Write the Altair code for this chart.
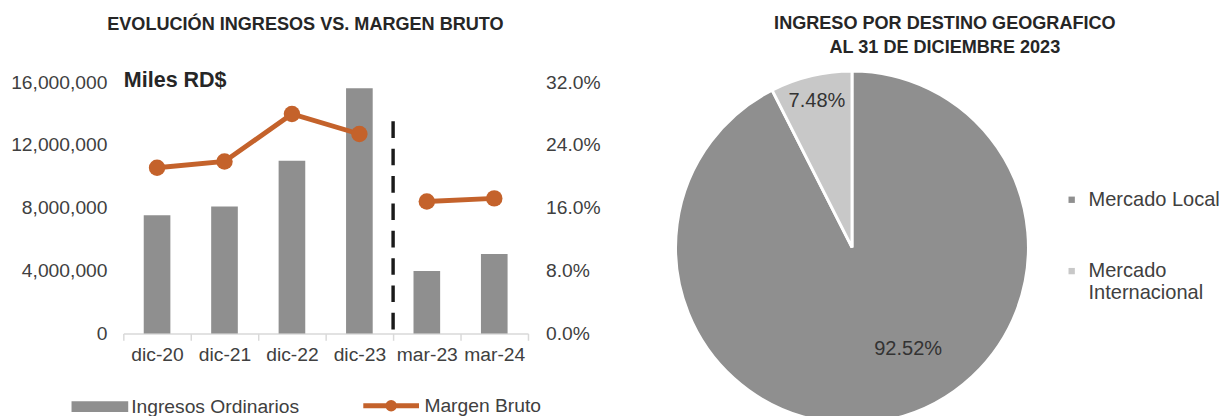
import altair as alt
import pandas as pd

# ---------------- data ----------------
periods = ["dic-20", "dic-21", "dic-22", "dic-23", "mar-23", "mar-24"]
ingresos = [7_530_000, 8_090_000, 11_000_000, 15_620_000, 3_980_000, 5_060_000]
margen = [0.211, 0.219, 0.2795, 0.254, 0.168, 0.172]
tramo = ["anual", "anual", "anual", "anual", "trimestral", "trimestral"]

divider_at = ["mar-23"]
divider_from = [250_000]
divider_to = [13_660_000]

left_ticks = [0, 4_000_000, 8_000_000, 12_000_000, 16_000_000]
right_ticks = [0.0, 0.08, 0.16, 0.24, 0.32]

destinos = ["Mercado Local", "Mercado Internacional"]
participacion = [0.9252, 0.0748]
orden = [0, 1]

# ---------------- style ----------------
FONT = "Liberation Sans"
TXT = "#404040"
TITLE = "#262626"
GREY = "#8f8f8f"
LIGHT = "#c8c8c8"
ORANGE = "#c4622b"
FS = 19.7

df = pd.DataFrame({
    "periodo": periods,
    "ingresos": ingresos,
    "margen": margen,
    "tramo": tramo,
    "serie_bar": ["Ingresos Ordinarios"] * len(periods),
    "serie_line": ["Margen Bruto"] * len(periods),
})
div_df = pd.DataFrame({"periodo": divider_at, "desde": divider_from, "hasta": divider_to})

x_scale = alt.Scale(paddingInner=0, paddingOuter=0)
x_axis = alt.Axis(title=None, labelAngle=0, labelFontSize=FS, labelColor=TXT, labelFont=FONT,
                  domainColor="#d9d9d9", domainWidth=1.5, tickColor="#d9d9d9", tickWidth=1.5,
                  tickSize=7, tickBand="extent", labelPadding=5)

yl_scale = alt.Scale(domain=[0, 16_000_000], nice=False)
yl_axis = alt.Axis(values=left_ticks, format=",.0f", grid=False, domain=False, ticks=False,
                   labelPadding=16.7, labelFontSize=FS, labelColor=TXT, labelFont=FONT,
                   title="Miles RD$", titleAngle=0, titleX=0, titleY=4, titleAlign="left",
                   titleBaseline="alphabetic", titleFontSize=22, titleFontWeight="bold",
                   titleColor=TITLE, titleFont=FONT)

yr_scale = alt.Scale(domain=[0, 0.32], nice=False)
yr_axis = alt.Axis(orient="right", values=right_ticks, format=".1%", grid=False, domain=False,
                   ticks=False, labelPadding=18, labelFontSize=FS, labelColor=TXT,
                   labelFont=FONT, title=None)

bars = alt.Chart(df).mark_bar(width=alt.RelativeBandSize(0.395)).encode(
    x=alt.X("periodo:N", sort=periods, scale=x_scale, axis=x_axis),
    y=alt.Y("ingresos:Q", scale=yl_scale, axis=yl_axis),
    fill=alt.Fill("serie_bar:N", scale=alt.Scale(domain=["Ingresos Ordinarios"], range=[GREY]),
                  legend=alt.Legend(orient="none", legendX=-53, legendY=303, title=None,
                                    symbolType="M-1,-0.19H1V0.19H-1Z", symbolSize=3364,
                                    symbolStrokeWidth=0, labelFontSize=FS, labelColor=TXT,
                                    labelFont=FONT, labelOffset=3, padding=0, labelLimit=400)),
)

divider = alt.Chart(div_df).mark_rule(color="#1a1a1a", strokeWidth=3.5, strokeDash=[17, 11]).encode(
    x=alt.X("periodo:N", sort=periods, scale=x_scale, axis=x_axis, bandPosition=0),
    y=alt.Y("desde:Q", scale=yl_scale, axis=yl_axis),
    y2="hasta:Q",
)

yr = alt.Y("margen:Q", scale=yr_scale, axis=yr_axis)

line = alt.Chart(df).mark_line(strokeWidth=5).encode(
    x=alt.X("periodo:N", sort=periods, scale=x_scale, axis=x_axis),
    y=yr,
    detail="tramo:N",
    stroke=alt.Stroke("serie_line:N", scale=alt.Scale(domain=["Margen Bruto"], range=[ORANGE]),
                      legend=alt.Legend(orient="none", legendX=243, legendY=300, title=None,
                                        symbolType="M-1,0H1M0.12,0A0.12,0.12 0 1 1 -0.12,0A0.12,0.12 0 1 1 0.12,0M0.04,0A0.04,0.04 0 1 1 -0.04,0A0.04,0.04 0 1 1 0.04,0",
                                        symbolSize=3249, symbolStrokeWidth=5,
                                        labelFontSize=FS, labelColor=TXT, labelFont=FONT,
                                        labelOffset=3, padding=0, labelLimit=400)),
)

points = alt.Chart(df).mark_circle(size=283, opacity=1, color=ORANGE).encode(
    x=alt.X("periodo:N", sort=periods, scale=x_scale, axis=x_axis),
    y=yr,
)

left = alt.layer(
    alt.layer(bars, divider),
    alt.layer(line, points),
).resolve_scale(y="independent", fill="independent", stroke="independent").properties(
    width=414, height=257,
    title=alt.TitleParams("EVOLUCIÓN INGRESOS VS. MARGEN BRUTO", font=FONT, fontSize=18.5,
                          fontWeight="bold", color=TITLE, anchor="middle", frame="bounds",
                          offset=36),
)

# ---------------- pie ----------------
pie_df = pd.DataFrame({"destino": destinos, "valor": participacion, "orden": orden})

base = alt.Chart(pie_df).encode(
    theta=alt.Theta("valor:Q", stack=True),
    order=alt.Order("orden:Q"),
)

arc = base.mark_arc(outerRadius=180.5, stroke="white", strokeWidth=3).encode(
    color=alt.Color("destino:N", sort=destinos,
                    scale=alt.Scale(domain=destinos, range=[GREY, LIGHT]),
                    legend=alt.Legend(orient="none", legendX=395, legendY=110, title=None,
                                      symbolType="square", symbolSize=42, symbolStrokeWidth=0,
                                      labelFontSize=20.5, labelColor=TXT, labelFont=FONT,
                                      labelOffset=7, rowPadding=52, padding=0, labelLimit=400,
                                      labelExpr="datum.label == 'Mercado Internacional' ? ['Mercado', 'Internacional'] : datum.label")),
)

txt_local = base.transform_calculate(
    lbl="datum.destino == 'Mercado Local' ? format(datum.valor, '.2%') : ''"
).mark_text(radius=118, dx=30, dy=-11, fontSize=20.5, font=FONT, color="#333333").encode(
    text="lbl:N")

txt_int = base.transform_calculate(
    lbl="datum.destino == 'Mercado Internacional' ? format(datum.valor, '.2%') : ''"
).mark_text(radius=154, fontSize=20.5, font=FONT, color="#333333").encode(
    text="lbl:N")

right = alt.layer(arc, txt_local, txt_int).properties(
    width=361, height=338,
    title=alt.TitleParams(["INGRESO POR DESTINO GEOGRAFICO", "AL 31 DE DICIEMBRE 2023"],
                          font=FONT, fontSize=18.5, fontWeight="bold", color=TITLE,
                          anchor="middle", frame="bounds", lineHeight=25, offset=8.5),
)

chart = alt.concat(left, right, columns=2, spacing=71,
                   padding={"left": 2, "top": 1, "right": 0, "bottom": 0},
                   align="none").resolve_scale(
    color="independent", fill="independent", stroke="independent"
).resolve_legend(color="independent", fill="independent", stroke="independent").configure_view(stroke=None)

chart.save("out.html", embed_options={"renderer": "svg", "actions": False})
